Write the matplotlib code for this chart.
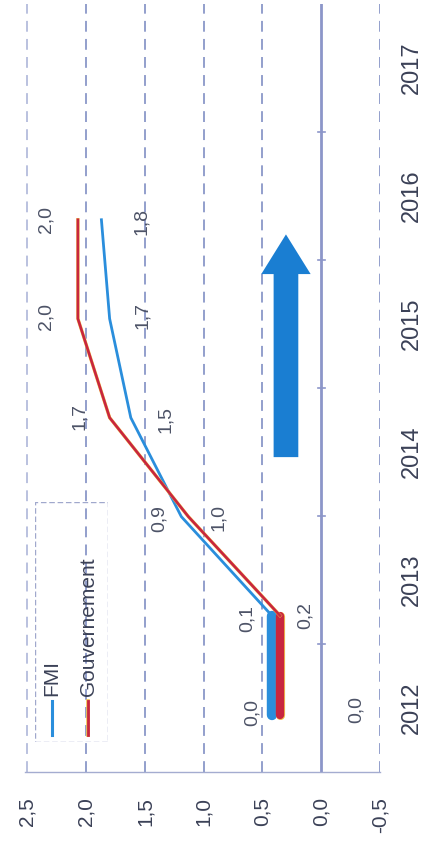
import matplotlib
matplotlib.use('Agg')
import matplotlib.pyplot as plt
import matplotlib.patheffects as pe
from matplotlib.patches import FancyArrow, Rectangle
from matplotlib.lines import Line2D

plt.rcParams['font.family'] = ['Liberation Sans', 'DejaVu Sans']

# ----------------------------------------------------------------------
#   Data
# ----------------------------------------------------------------------
years        = [2012, 2013, 2014, 2015, 2016, 2017]
value_ticks  = [2.5, 2.0, 1.5, 1.0, 0.5, 0.0, -0.5]
value_labels = ['2,5', '2,0', '1,5', '1,0', '0,5', '0,0', '-0,5']

# plotted positions (as drawn on the value scale)
fmi_values   = [0.42, 0.42, 1.19, 1.62, 1.80, 1.87]
gouv_values  = [0.35, 0.35, 1.13, 1.80, 2.07, 2.07]

# printed data labels
fmi_labels   = ['0,0', '0,1', '0,9', '1,5', '1,7', '1,8']
gouv_labels  = ['0,0', '0,2', '1,0', '1,7', '2,0', '2,0']

# label offsets in pixels (dx, dy)
fmi_offsets  = [(-20, 2), (-25, -3), (-22, -2), (35, -2), (33, 3), (40, -2)]
gouv_offsets = [(76, 5), (25, 0), (30, -1), (-30, 1), (-32, 2), (-32, 0)]

blue   = '#2a8edc'
red    = '#c8263f'
yellow = '#f2c24a'
grid_c = '#8a97c8'
text_c = '#3b4157'

# ----------------------------------------------------------------------
#   Figure
# ----------------------------------------------------------------------
W, H = 424, 851
fig = plt.figure(figsize=(W / 100, H / 100), dpi=100)
rect = [25 / W, (H - 772) / H, 355 / W, 768 / H]
ax = fig.add_axes(rect)

ax.set_xlim(2.52, -0.5)
ax.set_ylim(2011.5, 2017.5)

for v in value_ticks:
    if v == 0.0:
        ax.axvline(v, color='#8c96c9', lw=2.0, zorder=1)
    else:
        c = '#b4bcdc' if v == 2.5 else grid_c
        ax.axvline(v, color=c, lw=1.3, ls=(0, (6, 4)), zorder=1)

# small tick marks on the zero line between categories
for y in years[:-1]:
    ax.plot([0.03, -0.03], [y + 0.5, y + 0.5], color='#8c96c9', lw=1.2, zorder=1)

for s in ['top', 'left', 'right']:
    ax.spines[s].set_visible(False)
ax.spines['bottom'].set_color('#a4acd0')
ax.spines['bottom'].set_linewidth(1.0)

ax.set_xticks(value_ticks)
ax.set_xticklabels(value_labels, rotation=90, fontsize=15, color=text_c,
                   va='top', ha='center')
ax.tick_params(axis='x', length=0, pad=18)

ax.yaxis.tick_right()
ax.set_yticks(years)
ax.set_yticklabels([str(y) for y in years], rotation=90, fontsize=17,
                   color=text_c, va='center', ha='left')
ax.tick_params(axis='y', length=0, pad=15)

# arrow
arrow_x, arrow_y0, arrow_y1 = 0.30, 2013.96, 2015.70
ax.add_patch(FancyArrow(arrow_x, arrow_y0, 0, arrow_y1 - arrow_y0,
                        width=0.21, head_width=0.42, head_length=0.31,
                        length_includes_head=True, color='#1a7ed2', lw=0, zorder=2))

# ----------------------------------------------------------------------
#   Series overlay
# ----------------------------------------------------------------------
ax2 = fig.add_axes(rect)
ax2.set_xlim(ax.get_xlim())
ax2.set_ylim(-0.58, 7.18)
ax2.axis('off')
idx = list(range(len(fmi_values)))

ax2.plot(fmi_values[:2], idx[:2], color=blue, lw=7.5, solid_capstyle='round', zorder=3)
ax2.plot(gouv_values[:2], idx[:2], color=red, lw=6.0, solid_capstyle='round', zorder=3,
         path_effects=[pe.Stroke(linewidth=6.6, foreground=yellow), pe.Normal()])
ax2.plot(fmi_values[1:], idx[1:], color=blue, lw=2.0, zorder=3)
ax2.plot(gouv_values[1:], idx[1:], color=red, lw=1.9, zorder=4,
         path_effects=[pe.Stroke(linewidth=2.4, foreground=yellow), pe.Normal()])

for i in idx:
    ax2.annotate(fmi_labels[i], (fmi_values[i], i), xytext=fmi_offsets[i],
                 textcoords='offset pixels', rotation=90, ha='center', va='center',
                 fontsize=14, color='#4d5367')
    ax2.annotate(gouv_labels[i], (gouv_values[i], i), xytext=gouv_offsets[i],
                 textcoords='offset pixels', rotation=90, ha='center', va='center',
                 fontsize=14, color='#4d5367')

# legend (rotated with the chart)
lg = fig.add_axes([35 / W, (H - 742) / H, 73 / W, 240 / H])
lg.set_xlim(0, 1)
lg.set_ylim(0, 1)
lg.axis('off')
lg.add_patch(Rectangle((0, 0), 1, 1, fill=False, ec='#a0a8cc', lw=1.0, ls=(0, (4, 2))))
lg.add_line(Line2D([0.23, 0.23], [0.03, 0.17], color=blue, lw=2.2))
lg.text(0.23, 0.19, 'FMI', rotation=90, ha='center', va='bottom', fontsize=15, color=text_c)
lg.add_line(Line2D([0.73, 0.73], [0.03, 0.17], color=red, lw=2.0,
                   path_effects=[pe.Stroke(linewidth=2.6, foreground=yellow), pe.Normal()]))
lg.text(0.73, 0.19, 'Gouvernement', rotation=90, ha='center', va='bottom', fontsize=15,
        color=text_c)

fig.savefig('out.png', dpi=100)
